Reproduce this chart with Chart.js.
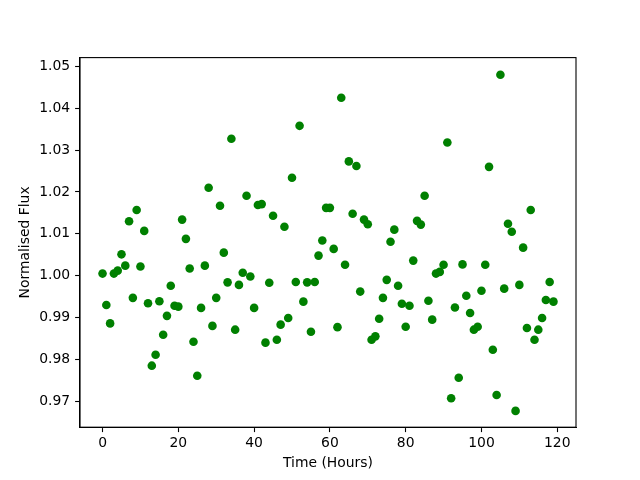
<!DOCTYPE html>
<html>
<head>
<meta charset="utf-8">
<script src="https://cdn.jsdelivr.net/npm/chart.js@4/dist/chart.umd.min.js"></script>
<style>
  html, body { margin: 0; padding: 0; background: #fff; }
  #wrap { width: 640px; height: 480px; }
</style>
</head>
<body>
<div id="wrap"><canvas id="c" width="640" height="480"></canvas></div>
<script>
const timeHours = [
  0, 1, 2, 3, 4, 5, 6, 7, 8, 9,
  10, 11, 12, 13, 14, 15, 16, 17, 18, 19,
  20, 21, 22, 23, 24, 25, 26, 27, 28, 29,
  30, 31, 32, 33, 34, 35, 36, 37, 38, 39,
  40, 41, 42, 43, 44, 45, 46, 47, 48, 49,
  50, 51, 52, 53, 54, 55, 56, 57, 58, 59,
  60, 61, 62, 63, 64, 65, 66, 67, 68, 69,
  70, 71, 72, 73, 74, 75, 76, 77, 78, 79,
  80, 81, 82, 83, 84, 85, 86, 87, 88, 89,
  90, 91, 92, 93, 94, 95, 96, 97, 98, 99,
  100, 101, 102, 103, 104, 105, 106, 107, 108, 109,
  110, 111, 112, 113, 114, 115, 116, 117, 118, 119
];
const normalisedFlux = [
  1.0005, 0.9930, 0.9886, 1.0005, 1.0012, 1.0051, 1.0024, 1.0130, 0.9947, 1.0157,
  1.0022, 1.0107, 0.9934, 0.9785, 0.9811, 0.9939, 0.9859, 0.9904, 0.9976, 0.9928,
  0.9926, 1.0134, 1.0088, 1.0017, 0.9842, 0.9761, 0.9923, 1.0024, 1.0210, 0.9880,
  0.9947, 1.0167, 1.0055, 0.9984, 1.0327, 0.9871, 0.9978, 1.0007, 1.0191, 0.9998,
  0.9923, 1.0169, 1.0171, 0.9840, 0.9983, 1.0143, 0.9847, 0.9883, 1.0117, 0.9899,
  1.0234, 0.9985, 1.0358, 0.9938, 0.9984, 0.9866, 0.9985, 1.0048, 1.0084, 1.0162,
  1.0162, 1.0064, 0.9877, 1.0425, 1.0026, 1.0273, 1.0148, 1.0262, 0.9962, 1.0134,
  1.0123, 0.9847, 0.9855, 0.9897, 0.9947, 0.9990, 1.0081, 1.0110, 0.9976, 0.9933,
  0.9878, 0.9928, 1.0036, 1.0131, 1.0122, 1.0191, 0.9940, 0.9895, 1.0005, 1.0009,
  1.0026, 1.0318, 0.9707, 0.9924, 0.9756, 1.0027, 0.9952, 0.9911, 0.9871, 0.9878,
  0.9964, 1.0026, 1.0260, 0.9823, 0.9715, 1.0480, 0.9969, 1.0124, 1.0105, 0.9677,
  0.9978, 1.0067, 0.9875, 1.0157, 0.9847, 0.9871, 0.9899, 0.9942, 0.9985, 0.9938
];
const xTicks = [0, 20, 40, 60, 80, 100, 120];
const yTicks = [0.97, 0.98, 0.99, 1.00, 1.01, 1.02, 1.03, 1.04, 1.05];
const xLabel = 'Time (Hours)';
const yLabel = 'Normalised Flux';

const FONT = { family: '"DejaVu Sans", sans-serif', size: 13.9 };

const frame = {
  id: 'frame',
  afterDatasetsDraw(chart) {
    const { ctx, chartArea: a } = chart;
    ctx.save();
    ctx.strokeStyle = '#000';
    ctx.lineWidth = 1.1;
    ctx.strokeRect(a.left, a.top, a.right - a.left, a.bottom - a.top);
    ctx.restore();
  }
};

new Chart(document.getElementById('c'), {
  type: 'scatter',
  data: {
    datasets: [{
      data: timeHours.map((t, i) => ({ x: t, y: normalisedFlux[i] })),
      backgroundColor: '#008000',
      borderWidth: 0,
      pointRadius: 4.3,
      pointHoverRadius: 4.3
    }]
  },
  options: {
    responsive: false,
    animation: false,
    events: [],
    layout: { padding: { left: 0, right: 64, top: 57.6, bottom: 0 } },
    plugins: { legend: { display: false }, tooltip: { enabled: false } },
    scales: {
      x: {
        type: 'linear',
        min: -5.95, max: 124.95,
        afterBuildTicks(s) { s.ticks = xTicks.map(v => ({ value: v })); },
        afterFit(s) { s.height = 52.8; },
        grid: { display: true, drawOnChartArea: false, drawTicks: true, tickLength: 4.9, color: '#000', tickWidth: 1.1 },
        border: { display: true, color: '#000', width: 1.1 },
        ticks: { color: '#000', font: FONT, padding: 3, maxRotation: 0, callback: v => String(v) },
        title: { display: true, text: xLabel, color: '#000', font: FONT, padding: { top: 3, bottom: 8.5 } }
      },
      y: {
        type: 'linear',
        min: 0.9638, max: 1.0521,
        afterBuildTicks(s) { s.ticks = yTicks.map(v => ({ value: v })); },
        afterFit(s) { s.width = 80; },
        grid: { display: true, drawOnChartArea: false, drawTicks: true, tickLength: 4.9, color: '#000', tickWidth: 1.1 },
        border: { display: true, color: '#000', width: 1.1 },
        ticks: { color: '#000', font: FONT, padding: 4.9, callback: v => Number(v).toFixed(2) },
        title: { display: true, text: yLabel, color: '#000', font: FONT, padding: { top: 17.5, bottom: 0 } }
      }
    }
  },
  plugins: [frame]
});
</script>
</body>
</html>
